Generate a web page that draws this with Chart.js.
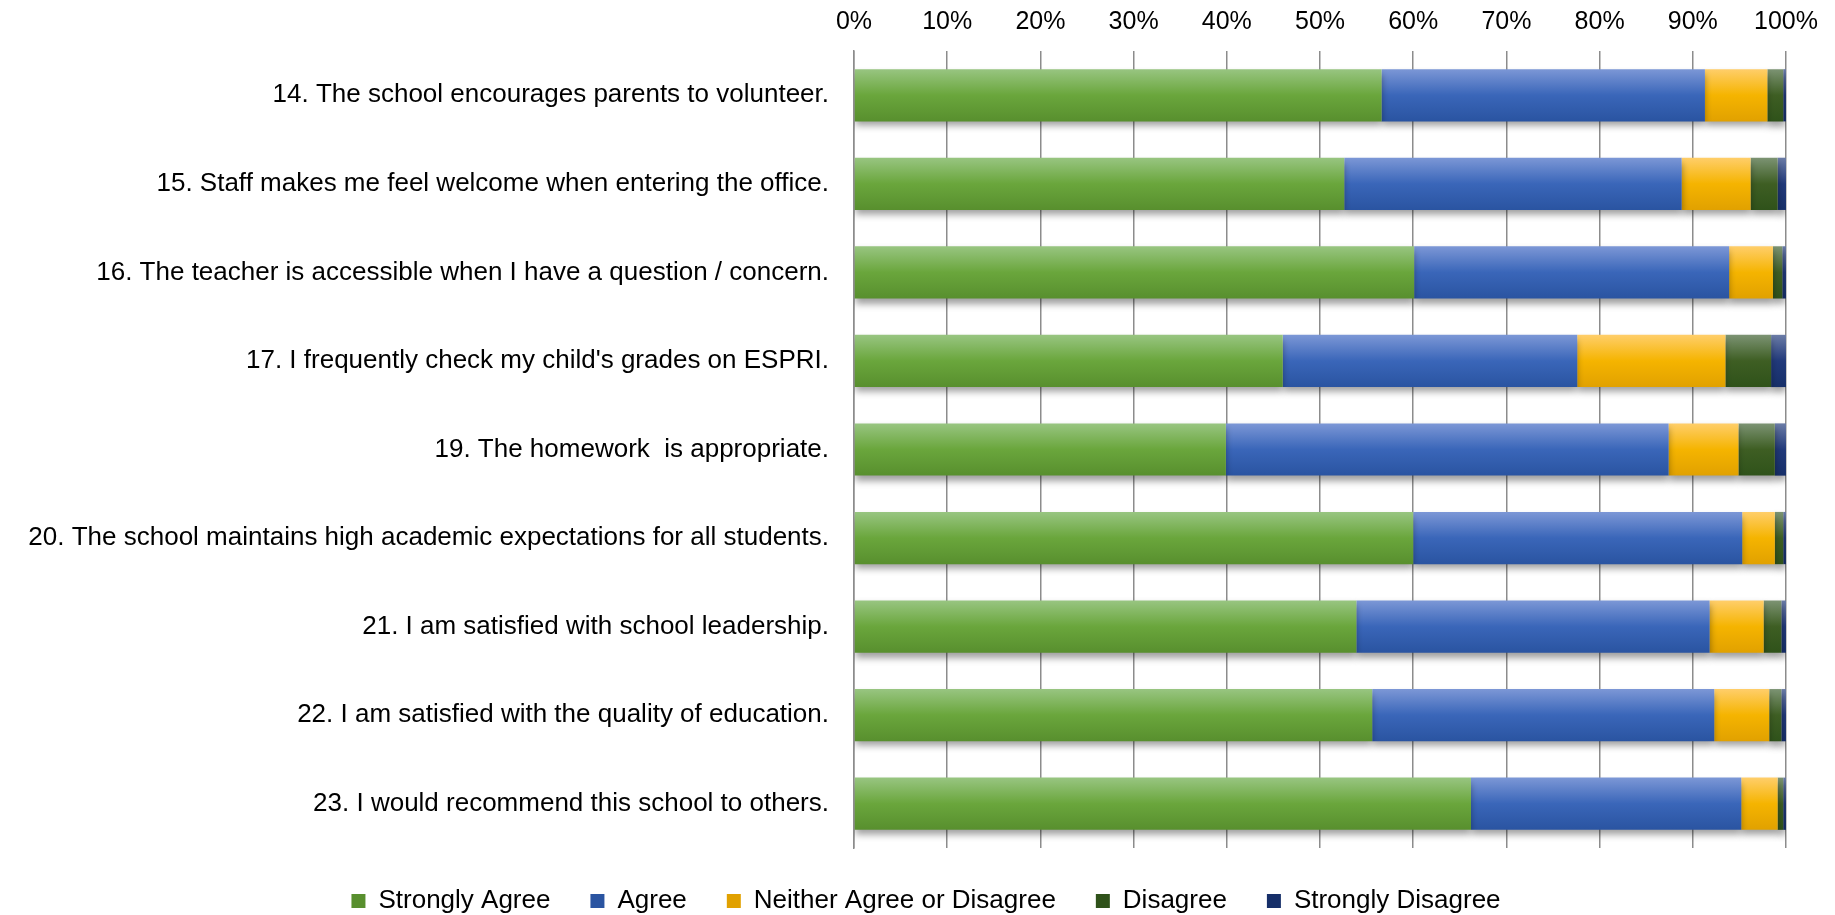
<!DOCTYPE html>
<html>
<head>
<meta charset="utf-8">
<script src="https://cdn.jsdelivr.net/npm/chart.js@4/dist/chart.umd.min.js"></script>
<style>
  html, body { margin: 0; padding: 0; background: #ffffff; }
  #wrap { width: 1835px; height: 915px; }
</style>
</head>
<body>
<div id="wrap"><canvas id="surveyChart"></canvas></div>
<script>
// Parent survey, share of answers per question (%)

const questions = [
    "14. The school encourages parents to volunteer.",
    "15. Staff makes me feel welcome when entering the office.",
    "16. The teacher is accessible when I have a question / concern.",
    "17. I frequently check my child's grades on ESPRI.",
    "19. The homework  is appropriate.",
    "20. The school maintains high academic expectations for all students.",
    "21. I am satisfied with school leadership.",
    "22. I am satisfied with the quality of education.",
    "23. I would recommend this school to others."
];

const stronglyAgree = [56.6, 52.6, 60.1, 46.0, 39.9, 60.0, 53.9, 55.6, 66.2];
const agree = [34.7, 36.2, 33.8, 31.6, 47.5, 35.3, 37.9, 36.7, 29.0];
const neither = [6.7, 7.4, 4.7, 15.9, 7.5, 3.5, 5.8, 5.9, 3.9];
const disagree = [1.7, 2.9, 1.0, 4.9, 3.9, 0.9, 1.9, 1.3, 0.6];
const stronglyDisagree = [0.3, 0.9, 0.4, 1.6, 1.2, 0.3, 0.5, 0.5, 0.3];

const xTicks = [0, 10, 20, 30, 40, 50, 60, 70, 80, 90, 100];

const FONT = "'Liberation Sans', Arial, sans-serif";
const barPct = 0.59;

// top / middle / bottom colour of each series
const shades = {
    sa: ["#98c581", "#6aa63c", "#588f2e"],
    a: ["#7c97d6", "#3a66b9", "#2a54a1"],
    n: ["#ffce6a", "#f5b400", "#e1a100"],
    d: ["#7c9373", "#3e5e23", "#2f521a"],
    sd: ["#6b7ca6", "#21397a", "#162f69"]
};

function barFill(colors) {
    return function (context) {
        if (context.type !== "data") {
            return colors[1];
        }
        const chart = context.chart;
        const yScale = chart.scales.y;
        if (!chart.chartArea || !yScale) {
            return colors[1];
        }
        const step = (yScale.bottom - yScale.top) / questions.length;
        const h = step * barPct;
        const y = yScale.getPixelForValue(context.dataIndex);
        if (!isFinite(y)) {
            return colors[1];
        }
        const g = chart.ctx.createLinearGradient(0, y - h / 2, 0, y + h / 2);
        g.addColorStop(0, colors[0]);
        g.addColorStop(0.5, colors[1]);
        g.addColorStop(1, colors[2]);
        return g;
    };
}

// soft shadow under the bars
const barShadow = {
    id: "barShadow",
    beforeDatasetsDraw(chart) {
        const ctx = chart.ctx;
        ctx.save();
        ctx.shadowColor = "rgba(0, 0, 0, 0.38)";
        ctx.shadowBlur = 7;
        ctx.shadowOffsetX = 0;
        ctx.shadowOffsetY = 5;
    },
    afterDatasetsDraw(chart) {
        chart.ctx.restore();
    }
};

// short legend band, legend sits a bit right of the canvas centre
const legendTweak = {
    id: "legendTweak",
    beforeUpdate(chart) {
        const legend = chart.legend;
        if (legend && !legend._fixed) {
            const fit = legend.fit;
            legend.fit = function () {
                fit.call(this);
                this.height = 67;
            };
            const draw = legend.draw;
            legend.draw = function (area) {
                const ctx = this.ctx;
                ctx.save();
                ctx.translate(33, 0);
                draw.call(this, area);
                ctx.restore();
            };
            legend._fixed = true;
        }
    }
};

function series(label, data, colors) {
    return {
        label: label,
        data: data,
        backgroundColor: barFill(colors),
        borderWidth: 0,
        barPercentage: barPct,
        categoryPercentage: 1
    };
}

new Chart("surveyChart", {
    type: "bar",
    data: {
        labels: questions,
        datasets: [
            series("Strongly Agree", stronglyAgree, shades.sa),
            series("Agree", agree, shades.a),
            series("Neither Agree or Disagree", neither, shades.n),
            series("Disagree", disagree, shades.d),
            series("Strongly Disagree", stronglyDisagree, shades.sd)
        ]
    },
    options: {
        indexAxis: "y",
        responsive: true,
        maintainAspectRatio: false,
        animation: false,
        layout: {
            padding: { left: 0, right: 49, top: 0, bottom: 0 }
        },
        scales: {
            x: {
                position: "top",
                stacked: true,
                min: 0,
                max: 100,
                afterBuildTicks: function (scale) {
                    scale.ticks = xTicks.map(v => ({ value: v }));
                },
                afterFit: function (scale) {
                    scale.height = 51;
                },
                grid: {
                    color: "#8c8c8c",
                    lineWidth: 1.5,
                    drawTicks: false
                },
                border: { display: false },
                ticks: {
                    color: "#000000",
                    padding: 14,
                    font: { family: FONT, size: 25 },
                    callback: function (value) {
                        return value + "%";
                    }
                }
            },
            y: {
                stacked: true,
                afterFit: function (scale) {
                    scale.width = 854;
                },
                grid: { display: false, drawTicks: false },
                border: { display: true, color: "#8c8c8c", width: 1.5 },
                ticks: {
                    color: "#000000",
                    padding: 25,
                    font: { family: FONT, size: 26 }
                }
            }
        },
        plugins: {
            legend: {
                position: "bottom",
                labels: {
                    color: "#000000",
                    boxWidth: 14,
                    boxHeight: 14,
                    padding: 40,
                    font: { family: FONT, size: 26 }
                }
            },
            tooltip: { enabled: false }
        }
    },
    plugins: [barShadow, legendTweak]
});
</script>
</body>
</html>
